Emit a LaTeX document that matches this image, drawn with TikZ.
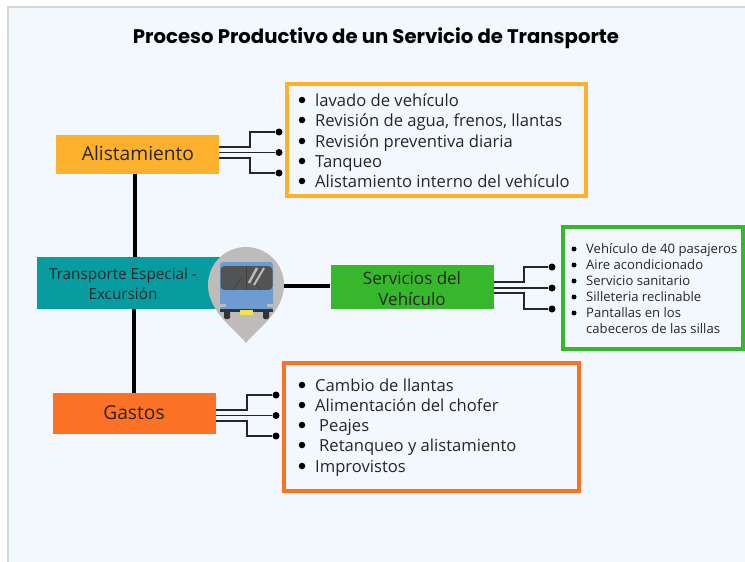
\documentclass[tikz,border=0pt]{standalone}
\usepackage{fontspec}
\setmainfont{Open Sans}
\newfontfamily\titlefont{Poppins}[BoldFont={Poppins Bold}]
\definecolor{bgc}{HTML}{F3F8FF}
\definecolor{edgec}{HTML}{D6D6D6}
\definecolor{yel}{HTML}{FDB12D}
\definecolor{grn}{HTML}{37B82C}
\definecolor{org}{HTML}{FB7125}
\definecolor{tea}{HTML}{069CA0}
\definecolor{pingrey}{HTML}{BEBCBA}
\definecolor{txt}{HTML}{262626}
\definecolor{busb}{HTML}{6F9BD3}
\definecolor{busd}{HTML}{525355}
\definecolor{plate}{HTML}{F5E04F}
\tikzset{
 x=1pt,y=-1pt,
 hd/.style={draw=none,inner sep=0pt,align=center,text=txt,anchor=center},
 listbox/.style={draw,line width=4.6pt,fill=none,inner sep=0pt},
 lbig/.style={anchor=base west,inner sep=0pt,text=txt,font=\fontsize{16.6}{16}\selectfont},
 lsm/.style={anchor=base west,inner sep=0pt,text=txt,font=\fontsize{13.1}{13}\selectfont},
 bul/.style={circle,fill=black,inner sep=0pt,minimum size=#1},
 stub/.style={line width=1.4pt,draw=txt},
 bar/.style={line width=3.4pt,draw=black},
 dotn/.style={circle,fill=black,inner sep=0pt,minimum size=7pt}
}
\begin{document}
\begin{tikzpicture}
\useasboundingbox (0,0) rectangle (745,562);
\fill[white] (0,0) rectangle (745,562);
\fill[bgc] (8,7) rectangle (745,562);
\draw[edgec,line width=1.5pt] (8,562) -- (8,7) -- (745,7);
\node[inner sep=0pt,font=\titlefont\bfseries\fontsize{19.65}{20}\selectfont] (title) at (376,38.5) {Proceso Productivo de un Servicio de Transporte};
% boxes
\node[hd,fill=yel,minimum width=163pt,minimum height=39pt] (alist) at (137.5,154.5) {};
\node[hd,font=\fontsize{19.2}{20}\selectfont] (alistlabel) at (138,153.5) {Alistamiento};
\node[hd,fill=tea,minimum width=188pt,minimum height=52pt] (trans) at (131,283) {};
\node[hd,font=\fontsize{15.3}{20}\selectfont,text=txt] (translabel) at (123,283.5) {Transporte Especial -\\Excursión};
\node[hd,fill=grn,minimum width=163pt,minimum height=44pt] (serv) at (412,287) {};
\node[hd,font=\fontsize{17}{21}\selectfont] (servlabel) at (412,289) {Servicios del\\Vehículo};
\node[hd,fill=org,minimum width=163pt,minimum height=41pt] (gastos) at (134,413.5) {};
\node[hd,font=\fontsize{19.2}{20}\selectfont] (gastoslabel) at (134,412.5) {Gastos};
% trunk lines
\coordinate (pinc) at (246,285);
\draw[bar] (135,174) -- (135,257);
\draw[bar] (134,309) -- (134,393);
\draw[bar] (280,286) -- (serv.west |- 0,286);
% pin
\fill[pingrey] (246,343) .. controls (236,330) and (208,312) .. (208,285) arc[start angle=180,end angle=0,x radius=38,y radius=-38] .. controls (284,312) and (256,330) .. (246,343) -- cycle;
% bus
\fill[busb,rounded corners=3pt] (220,262) rectangle (273,295);
\fill[busb,rounded corners=1.5pt] (220,295) rectangle (273,309);
\fill[busd,rounded corners=4pt] (220.5,266) rectangle (272.5,290);
\fill[busb] (220,290) rectangle (273,299);
\fill[pingrey] (220,304) rectangle (226,307);\fill[pingrey] (267,304) rectangle (273,307);
\fill[black!80] (220,309) rectangle (273,311.5);
\fill[black!80,rounded corners=1.5pt] (224,310) rectangle (230,319);
\fill[black!80,rounded corners=1.5pt] (263,310) rectangle (269,319);
\fill[plate] (239.5,310) rectangle (253,314.5);
\draw[black!75,line width=0.8pt] (246,266) -- (246,290);
\draw[black!75,line width=0.8pt] (233,290) -- (241,278);
\draw[black!75,line width=0.8pt] (252,278) -- (260,290);
\draw[pingrey,line width=2.4pt] (249,283) -- (257,268);
\draw[pingrey,line width=2pt] (254,285) -- (264,268);
% list boxes
\node[listbox,draw=yel,minimum width=299pt,minimum height=112pt] (b1) at (436.5,140) {};
\node[listbox,draw=grn,minimum width=180pt,minimum height=122pt] (b2) at (653,288) {};
\node[listbox,draw=org,minimum width=295pt,minimum height=128pt] (b3) at (431.5,427) {};
% list 1
\foreach \y/\t in {100/lavado de vehículo,120/{Revisión de agua, frenos, llantas},141/Revisión preventiva diaria,161/Tanqueo,181/Alistamiento interno del vehículo}{
  \node[bul=6.5pt] at (302,\y) {};
  \node[lbig] at (315,\y+6) {\t};
}
% list 2
\foreach \y/\t in {249/Vehículo de 40 pasajeros,265/Aire acondicionado,281/Servicio sanitario,297/Silleteria reclinable,313/Pantallas en los}{
  \node[bul=5pt] at (574,\y) {};
  \node[lsm] at (586,\y+4.5) {\t};
}
\node[lsm] at (586,333.5) {cabeceros de las sillas};
% list 3
\foreach \y/\x/\t in {385/315/Cambio de llantas,405/315/Alimentación del chofer,425/319/Peajes,445/319/Retanqueo y alistamiento,466/315/Improvistos}{
  \node[bul=6.5pt] at (302,\y) {};
  \node[lbig] at (\x,\y+6) {\t};
}
% connector ends
\node[dotn] (a1) at (279,132) {};
\node[dotn] (a2) at (279,152.5) {};
\node[dotn] (a3) at (279,173) {};
\node[dotn] (s1) at (552,267) {};
\node[dotn] (s2) at (552,288) {};
\node[dotn] (s3) at (552,309) {};
\node[dotn] (g1) at (276,395) {};
\node[dotn] (g2) at (276,415.5) {};
\node[dotn] (g3) at (276,436) {};
\draw[stub] (alist.east |- 0,147) -| (250,132) -- (a1);
\draw[stub] (alist.east |- a2) -- (a2);
\draw[stub] (alist.east |- 0,158) -| (250,173) -- (a3);
\draw[stub] (serv.east |- 0,282) -| (524,267) -- (s1);
\draw[stub] (serv.east |- s2) -- (s2);
\draw[stub] (serv.east |- 0,293) -| (524,309) -- (s3);
\draw[stub] (gastos.east |- 0,410) -| (247,395) -- (g1);
\draw[stub] (gastos.east |- g2) -- (g2);
\draw[stub] (gastos.east |- 0,421) -| (247,436) -- (g3);
\end{tikzpicture}
\end{document}
